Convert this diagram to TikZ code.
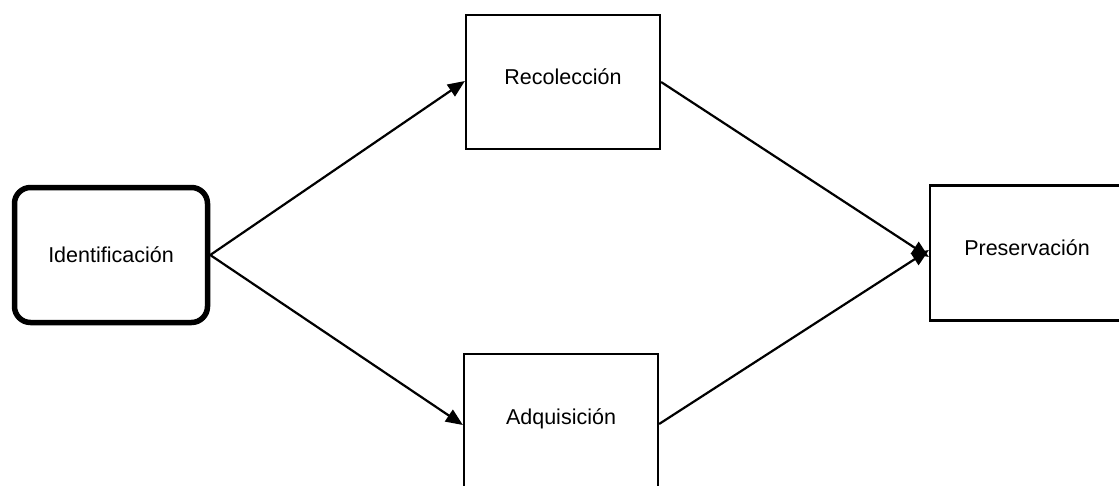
\documentclass[tikz,border=0pt]{standalone}
\usepackage{fontspec}
\setmainfont{Liberation Sans}
\usetikzlibrary{arrows.meta}
\begin{document}
\begin{tikzpicture}[x=1pt,y=-1pt,
  stepbox/.style={draw=black,line width=2.2pt,fill=white,minimum width=194pt,minimum height=134pt,inner sep=0pt,font=\fontsize{21.5}{25}\selectfont,text height=10pt,text depth=5pt},
  startbox/.style={draw=black,line width=5.5pt,rounded corners=16pt,fill=white,minimum width=193pt,minimum height=135pt,inner sep=0pt,font=\fontsize{21.5}{25}\selectfont},
  flow/.style={line width=2.2pt,-{Triangle[length=17pt,width=14pt]}}]
\useasboundingbox (0,0) rectangle (1119,485);
\clip (0,0) rectangle (1119,485);
\node[startbox] (ident) at (111,255) {Identificación};
\node[stepbox] (recol) at (563,82) {Recolección};
\node[stepbox,minimum height=136pt] (adqui) at (561,422) {Adquisición};
\node[stepbox,minimum height=135pt] (pres) at (1027,253) {Preservación};
\draw[flow] (ident.east) -- ([yshift=1pt]recol.west);
\draw[flow] (ident.east) -- ([yshift=-3pt]adqui.west);
\draw[flow] (recol.east) -- ([yshift=-4pt]pres.west);
\draw[flow] ([yshift=-2pt]adqui.east) -- ([yshift=3pt]pres.west);
\end{tikzpicture}
\end{document}
